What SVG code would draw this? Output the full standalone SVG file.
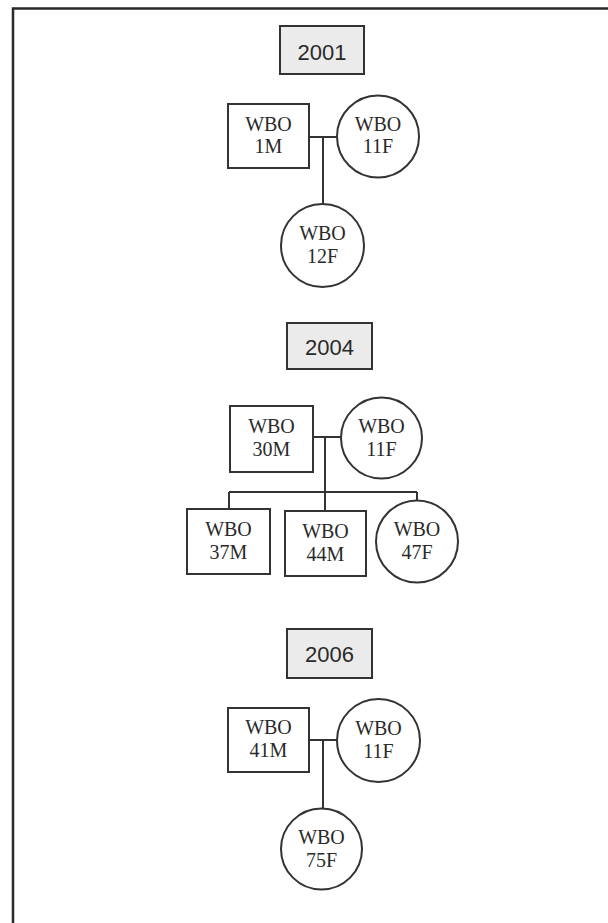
<svg xmlns="http://www.w3.org/2000/svg" width="608" height="923" viewBox="0 0 608 923">
  <style>
    .frame { fill: none; stroke: #2a2a2a; stroke-width: 2.5; }
    .year rect { fill: #ebebeb; stroke: #333; stroke-width: 2; }
    .year text { font-family: "Liberation Sans", Arial, sans-serif; font-size: 22px; fill: #2a2a2a; text-anchor: middle; }
    .male rect, .female circle { fill: #fff; stroke: #333; stroke-width: 2; }
    .male text, .female text { font-family: "Liberation Serif", "Times New Roman", serif; font-size: 20px; fill: #2a2a2a; text-anchor: middle; }
    .link { fill: none; stroke: #333; stroke-width: 2; }
  </style>

  <!-- outer border (open on the right and bottom) -->
  <rect class="frame" x="13" y="8.5" width="620" height="940"/>

  <!-- connectors -->
  <g id="connectors">
    <!-- 2001 family -->
    <path class="link" d="M309 137 H337 M323 137 V205"/>
    <!-- 2004 family -->
    <path class="link" d="M313 437 H341 M325 437 V511 M229 492 H417 M229 492 V509 M417 492 V501"/>
    <!-- 2006 family -->
    <path class="link" d="M309 740 H337 M323 740 V809"/>
  </g>

  <!-- 2001 -->
  <g id="year-2001" class="year">
    <rect x="280" y="26" width="84" height="48"/>
    <text x="322" y="59.5">2001</text>
  </g>
  <g id="wbo-1m" class="male">
    <rect x="228" y="104" width="81" height="64"/>
    <text x="268.5" y="131">WBO</text>
    <text x="268.5" y="153">1M</text>
  </g>
  <g id="wbo-11f-2001" class="female">
    <circle cx="378" cy="136.5" r="41"/>
    <text x="378" y="131">WBO</text>
    <text x="378" y="153">11F</text>
  </g>
  <g id="wbo-12f" class="female">
    <circle cx="322.5" cy="245.5" r="41.5"/>
    <text x="322.5" y="240">WBO</text>
    <text x="322.5" y="263">12F</text>
  </g>

  <!-- 2004 -->
  <g id="year-2004" class="year">
    <rect x="287" y="323" width="85" height="46"/>
    <text x="329.5" y="354.5">2004</text>
  </g>
  <g id="wbo-30m" class="male">
    <rect x="230" y="406" width="83" height="66"/>
    <text x="271.5" y="433">WBO</text>
    <text x="271.5" y="456">30M</text>
  </g>
  <g id="wbo-11f-2004" class="female">
    <circle cx="381.5" cy="438" r="40.5"/>
    <text x="381.5" y="433">WBO</text>
    <text x="381.5" y="456">11F</text>
  </g>
  <g id="wbo-37m" class="male">
    <rect x="187" y="509" width="83" height="65"/>
    <text x="228.5" y="536">WBO</text>
    <text x="228.5" y="559">37M</text>
  </g>
  <g id="wbo-44m" class="male">
    <rect x="285" y="511" width="81" height="65"/>
    <text x="325.5" y="538">WBO</text>
    <text x="325.5" y="561">44M</text>
  </g>
  <g id="wbo-47f" class="female">
    <circle cx="417" cy="541.5" r="41"/>
    <text x="417" y="536">WBO</text>
    <text x="417" y="559">47F</text>
  </g>

  <!-- 2006 -->
  <g id="year-2006" class="year">
    <rect x="287" y="629" width="85" height="49"/>
    <text x="329.5" y="662">2006</text>
  </g>
  <g id="wbo-41m" class="male">
    <rect x="228" y="708" width="81" height="64"/>
    <text x="268.5" y="734">WBO</text>
    <text x="268.5" y="757">41M</text>
  </g>
  <g id="wbo-11f-2006" class="female">
    <circle cx="378.5" cy="740.5" r="41.5"/>
    <text x="378.5" y="735">WBO</text>
    <text x="378.5" y="758">11F</text>
  </g>
  <g id="wbo-75f" class="female">
    <circle cx="321.5" cy="849" r="40.5"/>
    <text x="321.5" y="844">WBO</text>
    <text x="321.5" y="867">75F</text>
  </g>
</svg>
